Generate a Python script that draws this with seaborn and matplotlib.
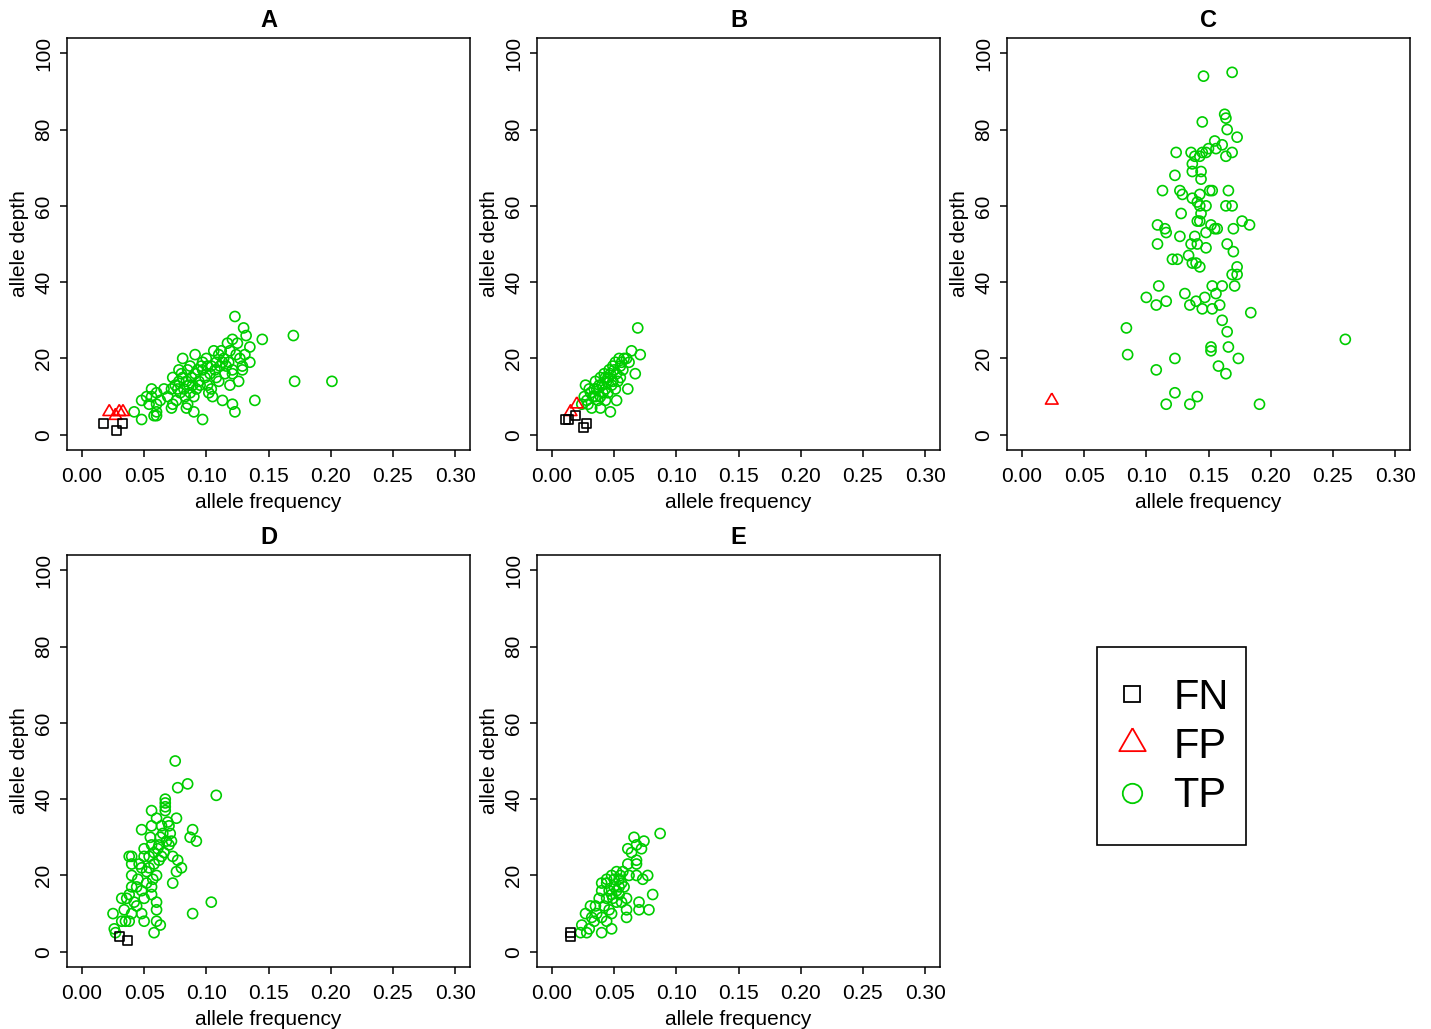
import pandas as pd
import seaborn as sns
import matplotlib.pyplot as plt
from matplotlib.lines import Line2D
from matplotlib.patches import Rectangle

# ---- data (allele frequency, allele depth) ----
a_tp_af = [0.123, 0.130, 0.132, 0.145, 0.170, 0.121, 0.117, 0.125, 0.135, 0.119,
           0.106, 0.091, 0.081, 0.100, 0.110, 0.113, 0.108, 0.116, 0.135, 0.129,
           0.129, 0.121, 0.097, 0.096, 0.085, 0.080, 0.088, 0.073, 0.078, 0.084,
           0.089, 0.072, 0.077, 0.082, 0.101, 0.104, 0.108, 0.105, 0.121, 0.126,
           0.113, 0.121, 0.123, 0.139, 0.090, 0.085, 0.073, 0.072, 0.090, 0.097,
           0.084, 0.056, 0.060, 0.052, 0.048, 0.056, 0.060, 0.058, 0.060, 0.060,
           0.042, 0.048, 0.171, 0.201,
           0.075, 0.079, 0.083, 0.087, 0.092, 0.094, 0.099, 0.103, 0.107, 0.111,
           0.114, 0.118, 0.124, 0.127, 0.091, 0.087, 0.069, 0.076, 0.081, 0.095,
           0.102, 0.110, 0.115, 0.063, 0.066, 0.054, 0.097, 0.119, 0.131, 0.104,
           0.112, 0.086, 0.093, 0.078, 0.101]
a_tp_dp = [31, 28, 26, 25, 26, 25, 24, 24, 23, 22,
           22, 21, 20, 20, 21, 19, 19, 18, 19, 18,
           17, 17, 17, 18, 17, 16, 15, 15, 14, 14,
           13, 12, 12, 12, 13, 12, 15, 10, 16, 14,
           9, 8, 6, 9, 10, 8, 8, 7, 6, 4,
           7, 12, 11, 10, 9, 10, 8, 5, 6, 5,
           6, 4, 14, 14,
           13, 11, 10, 11, 12, 14, 15, 16, 17, 18,
           20, 19, 21, 20, 16, 18, 10, 9, 15, 13,
           11, 14, 16, 9, 12, 8, 19, 13, 21, 18,
           22, 13, 17, 17, 18]
a_fp_af = [0.022, 0.027, 0.030, 0.033]
a_fp_dp = [6, 5, 6, 6]
a_fn_af = [0.017, 0.033, 0.028]
a_fn_dp = [3, 3, 1]

b_tp_af = [0.069, 0.064, 0.071, 0.067, 0.061, 0.052, 0.047,
           0.054, 0.058, 0.051, 0.055, 0.049, 0.046, 0.042, 0.043, 0.039, 0.035,
           0.038, 0.034, 0.030, 0.027, 0.031, 0.035, 0.039, 0.026, 0.028, 0.032,
           0.039, 0.043, 0.024, 0.052, 0.049, 0.043, 0.051,
           0.056, 0.060, 0.047, 0.044, 0.040, 0.036, 0.045, 0.041, 0.048, 0.053,
           0.057, 0.033, 0.029, 0.037, 0.055, 0.050, 0.062, 0.045]
b_tp_dp = [28, 22, 21, 16, 12, 9, 6,
           20, 20, 19, 18, 18, 17, 16, 15, 15, 14,
           13, 12, 12, 13, 11, 10, 10, 10, 9, 7,
           7, 9, 8, 16, 14, 12, 12,
           19, 20, 16, 14, 13, 12, 11, 11, 13, 14,
           17, 10, 8, 9, 15, 17, 19, 15]
b_fp_af = [0.020, 0.015]
b_fp_dp = [8, 6]
b_fn_af = [0.011, 0.013, 0.019, 0.025, 0.028]
b_fn_dp = [4, 4, 5, 2, 3]

c_tp_af = [0.146, 0.169, 0.163, 0.164, 0.145, 0.165, 0.173, 0.155, 0.161, 0.156,
           0.150, 0.124, 0.136, 0.139, 0.143, 0.145, 0.148, 0.169, 0.164, 0.137,
           0.137, 0.144, 0.144, 0.123, 0.113, 0.127, 0.129, 0.137, 0.143, 0.141,
           0.143, 0.144, 0.148, 0.151, 0.153, 0.166, 0.164, 0.169, 0.128, 0.141,
           0.143, 0.109, 0.115, 0.116, 0.127, 0.139, 0.148, 0.152, 0.155, 0.157,
           0.177, 0.183, 0.170, 0.109, 0.136, 0.141, 0.148, 0.165, 0.170, 0.121,
           0.125, 0.134, 0.137, 0.140, 0.143, 0.173, 0.169, 0.173, 0.110, 0.153,
           0.161, 0.171, 0.131, 0.156, 0.100, 0.108, 0.116, 0.135, 0.140, 0.147,
           0.145, 0.153, 0.159, 0.184, 0.161, 0.165, 0.084, 0.085, 0.123, 0.108,
           0.152, 0.152, 0.166, 0.174, 0.158, 0.164, 0.123, 0.141, 0.116, 0.135,
           0.191, 0.260]
c_tp_dp = [94, 95, 84, 83, 82, 80, 78, 77, 76, 75,
           75, 74, 74, 73, 73, 74, 74, 74, 73, 71,
           69, 69, 67, 68, 64, 64, 63, 62, 63, 61,
           60, 58, 60, 64, 64, 64, 60, 60, 58, 56,
           56, 55, 54, 53, 52, 52, 53, 55, 54, 54,
           56, 55, 54, 50, 50, 50, 49, 50, 48, 46,
           46, 47, 45, 45, 44, 44, 42, 42, 39, 39,
           39, 39, 37, 37, 36, 34, 35, 34, 35, 36,
           33, 33, 34, 32, 30, 27, 28, 21, 20, 17,
           23, 22, 23, 20, 18, 16, 11, 10, 8, 8,
           8, 25]
c_fp_af = [0.024]
c_fp_dp = [9]
c_fn_af = []
c_fn_dp = []

d_tp_af = [0.075, 0.077, 0.085, 0.108, 0.067, 0.067, 0.067, 0.056, 0.067, 0.060,
           0.076, 0.069, 0.048, 0.056, 0.064, 0.070, 0.089, 0.087, 0.092, 0.072,
           0.070, 0.062, 0.056, 0.050, 0.058, 0.064, 0.054, 0.050, 0.040, 0.038,
           0.073, 0.077, 0.080, 0.076, 0.073, 0.040, 0.048, 0.054, 0.060, 0.040,
           0.040, 0.044, 0.048, 0.056, 0.056, 0.032, 0.036, 0.042, 0.050, 0.060,
           0.060, 0.048, 0.040, 0.038, 0.035, 0.104, 0.089, 0.025, 0.032, 0.026,
           0.027, 0.050, 0.060, 0.063, 0.058,
           0.045, 0.052, 0.058, 0.062, 0.066, 0.068, 0.063, 0.046, 0.052, 0.044,
           0.038, 0.034, 0.057, 0.061, 0.065, 0.071, 0.055]
d_tp_dp = [50, 43, 44, 41, 40, 39, 38, 37, 37, 35,
           35, 34, 32, 33, 33, 33, 32, 30, 29, 29,
           28, 28, 28, 27, 26, 25, 25, 25, 25, 25,
           25, 24, 22, 21, 18, 23, 22, 22, 20, 20,
           17, 17, 16, 17, 15, 14, 14, 13, 14, 13,
           11, 10, 10, 8, 8, 13, 10, 10, 8, 6,
           5, 8, 8, 7, 5,
           19, 21, 23, 24, 26, 29, 30, 23, 18, 12,
           15, 11, 19, 27, 31, 31, 30]
d_fp_af = []
d_fp_dp = []
d_fn_af = [0.030, 0.037]
d_fn_dp = [4, 3]

e_tp_af = [0.087, 0.066, 0.074, 0.068, 0.061, 0.064, 0.072, 0.068, 0.061, 0.068,
           0.077, 0.073, 0.068, 0.062, 0.052, 0.048, 0.044, 0.054, 0.056, 0.050,
           0.044, 0.040, 0.040, 0.048, 0.054, 0.060, 0.038, 0.044, 0.052, 0.056,
           0.081, 0.070, 0.070, 0.078, 0.060, 0.060, 0.035, 0.031, 0.027, 0.032,
           0.040, 0.044, 0.048, 0.024, 0.030, 0.023, 0.028, 0.040, 0.048,
           0.046, 0.050, 0.055, 0.058, 0.052, 0.042, 0.036, 0.046, 0.054, 0.057,
           0.049, 0.034]
e_tp_dp = [31, 30, 29, 28, 27, 26, 27, 24, 23, 23,
           20, 19, 20, 20, 21, 20, 19, 19, 18, 17,
           18, 18, 16, 15, 15, 14, 14, 14, 13, 13,
           15, 13, 11, 11, 11, 9, 12, 12, 10, 9,
           9, 8, 10, 7, 6, 5, 5, 5, 6,
           16, 19, 20, 17, 16, 12, 10, 11, 17, 21,
           14, 8]
e_fp_af = []
e_fp_dp = []
e_fn_af = [0.015, 0.015]
e_fn_dp = [5, 4]

panels = ['A', 'B', 'C', 'D', 'E']
classes = ['FN', 'FP', 'TP']
x_ticks = [0.00, 0.05, 0.10, 0.15, 0.20, 0.25, 0.30]
y_ticks = [0, 20, 40, 60, 80, 100]

panel_data = {
  'A': (a_tp_af, a_tp_dp, a_fp_af, a_fp_dp, a_fn_af, a_fn_dp),
  'B': (b_tp_af, b_tp_dp, b_fp_af, b_fp_dp, b_fn_af, b_fn_dp),
  'C': (c_tp_af, c_tp_dp, c_fp_af, c_fp_dp, c_fn_af, c_fn_dp),
  'D': (d_tp_af, d_tp_dp, d_fp_af, d_fp_dp, d_fn_af, d_fn_dp),
  'E': (e_tp_af, e_tp_dp, e_fp_af, e_fp_dp, e_fn_af, e_fn_dp),
}

def make_df(tp_af, tp_dp, fp_af, fp_dp, fn_af, fn_dp):
  parts = [
    pd.DataFrame({'af': tp_af, 'depth': tp_dp, 'call': 'TP'}),
    pd.DataFrame({'af': fp_af, 'depth': fp_dp, 'call': 'FP'}),
    pd.DataFrame({'af': fn_af, 'depth': fn_dp, 'call': 'FN'}),
  ]
  return pd.concat(parts, ignore_index=True)

# ---- styling ----
sns.set_style('ticks')
plt.rcParams['font.family'] = ['Liberation Sans', 'DejaVu Sans']
plt.rcParams['text.color'] = 'black'
plt.rcParams['axes.labelcolor'] = 'black'
plt.rcParams['xtick.color'] = 'black'
plt.rcParams['ytick.color'] = 'black'

colors = {'FN': 'black', 'FP': '#FF0000', 'TP': '#00CD00'}
tri = [(0, 1), (-0.866, -0.5), (0.866, -0.5), (0, 1)]
markers = {'FN': 's', 'FP': tri, 'TP': 'o'}
sizes = {'FN': 42, 'FP': 110, 'TP': 52}

W, H = 1431, 1029
boxes = {
  'A': (67, 38), 'B': (537, 38), 'C': (1007, 38),
  'D': (67, 555), 'E': (537, 555),
}
bw, bh = 403, 412

fig = plt.figure(figsize=(W / 100, H / 100), dpi=100)

for name in panels:
  left, top = boxes[name]
  ax = fig.add_axes([left / W, 1 - (top + bh) / H, bw / W, bh / H])
  df = make_df(*panel_data[name])

  for cls in ['TP', 'FP', 'FN']:
    sub = df[df['call'] == cls]
    if len(sub) == 0:
      continue
    sns.scatterplot(
      x='af', y='depth', data=sub, ax=ax,
      marker=markers[cls], s=sizes[cls],
      color=colors[cls], facecolors='none', edgecolor=colors[cls],
      linewidth=1.2, legend=False, zorder=3
    )

  ax.set_xlim(-0.012, 0.312)
  ax.set_ylim(-4, 104)
  ax.set_xticks(x_ticks)
  ax.set_xticklabels([f'{t:.2f}' for t in x_ticks])
  ax.set_yticks(y_ticks)
  ax.set_yticklabels([str(t) for t in y_ticks], rotation=90, va='center')
  ax.tick_params(direction='out', length=5, width=1.1, labelsize=15,
                 color='black', labelcolor='black')
  ax.tick_params(axis='x', pad=7)
  ax.tick_params(axis='y', pad=5)
  for sp in ax.spines.values():
    sp.set_visible(True)
    sp.set_linewidth(1.1)
    sp.set_color('black')
  ax.set_xlabel('allele frequency', fontsize=15, labelpad=5, color='black')
  ax.set_ylabel('allele depth', fontsize=15, labelpad=4, color='black')
  ax.set_title(name, fontsize=17, fontweight='bold', pad=8, color='black')
  ax.grid(False)

# legend box
fig.patches.append(Rectangle((1097 / W, 1 - 845 / H), 149 / W, 198 / H,
                             transform=fig.transFigure, fill=False,
                             edgecolor='black', linewidth=1.2))
handles = [
  Line2D([], [], linestyle='none', marker='s', markersize=12,
         markerfacecolor='none', markeredgecolor='black', markeredgewidth=1.3),
  Line2D([], [], linestyle='none', marker=tri, markersize=22,
         markerfacecolor='none', markeredgecolor='#FF0000', markeredgewidth=1.3),
  Line2D([], [], linestyle='none', marker='o', markersize=14,
         markerfacecolor='none', markeredgecolor='#00CD00', markeredgewidth=1.3),
]
fig.legend(handles, classes, loc='center',
           bbox_to_anchor=(1172 / W, 1 - 747 / H),
           frameon=False, fontsize=30, handlelength=0.8,
           handletextpad=0.6, labelspacing=0.22, borderpad=0,
           labelcolor='black')

fig.savefig('out.png', dpi=100, facecolor='white')
